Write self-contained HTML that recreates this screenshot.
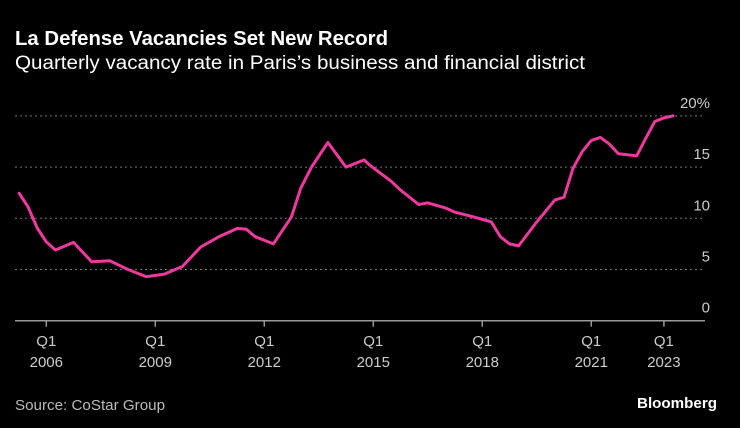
<!DOCTYPE html>
<html><head><meta charset="utf-8"><style>
html,body{margin:0;padding:0;background:#000;}
svg{display:block;font-family:"Liberation Sans",sans-serif;}
</style></head><body>
<svg id="chart" width="740" height="428" viewBox="0 0 740 428" xmlns="http://www.w3.org/2000/svg">
<rect width="740" height="428" fill="#000"/>
<text x="15" y="45" fill="#fff" font-size="20" font-weight="bold" textLength="373" lengthAdjust="spacingAndGlyphs">La Defense Vacancies Set New Record</text>
<text x="15" y="69" fill="#fff" font-size="19" textLength="570" lengthAdjust="spacingAndGlyphs">Quarterly vacancy rate in Paris’s business and financial district</text>
<g id="grid"></g>
<g id="xaxis"></g>
<g id="ylabels"></g>
<path id="line" fill="none" stroke="#f0399e" stroke-width="3" stroke-linejoin="round" stroke-linecap="round"/>
<text x="15" y="410" fill="#bbb" font-size="15" textLength="150" lengthAdjust="spacingAndGlyphs">Source: CoStar Group</text>
<text x="717" y="408" text-anchor="end" fill="#fff" font-size="15" font-weight="bold" textLength="80" lengthAdjust="spacingAndGlyphs">Bloomberg</text>
</svg>
<script>
const dates = [2005.25,2005.5,2005.75,2006.0,2006.25,2006.75,2007.25,2007.75,2008.25,2008.75,2009.25,2009.75,2010.25,2010.75,2011.25,2011.5,2011.75,2012.25,2012.75,2013.0,2013.3,2013.75,2014.25,2014.75,2014.9,2015.5,2015.75,2016.25,2016.5,2017.0,2017.25,2017.75,2018.25,2018.5,2018.75,2019.0,2019.5,2020.0,2020.25,2020.5,2020.75,2021.0,2021.25,2021.5,2021.75,2022.25,2022.5,2022.75,2023.0,2023.25];
const values = [12.45,11.1,9.05,7.7,6.9,7.65,5.75,5.85,5.0,4.3,4.55,5.3,7.2,8.2,9.0,8.95,8.2,7.5,10.15,12.9,15.0,17.4,15.0,15.7,15.2,13.6,12.75,11.35,11.5,11.0,10.6,10.15,9.65,8.2,7.5,7.3,9.65,11.8,12.05,14.9,16.5,17.6,17.9,17.25,16.3,16.1,17.8,19.45,19.8,20.0];
const yTicks = [0,5,10,15,20];
const yTickLabels = ["0","5","10","15","20%"];
const xTickYears = [2006,2009,2012,2015,2018,2021,2023];
const xTickLabels = ["2006","2009","2012","2015","2018","2021","2023"];

const NS="http://www.w3.org/2000/svg";
const X0=15, X1=705;
function xs(d){return 46.3+(d-2006)*36.33;}
function ys(v){return 320.7-v*10.24;}
function mk(tag,attrs,parent,text){const e=document.createElementNS(NS,tag);for(const k in attrs)e.setAttribute(k,attrs[k]);if(text!==undefined)e.textContent=text;parent.appendChild(e);return e;}
const grid=document.getElementById('grid'), yl=document.getElementById('ylabels'), xa=document.getElementById('xaxis');
yTicks.forEach((t,i)=>{
  const y=ys(t);
  if(t>0){
    const g=mk('line',{x1:X0,x2:X1,y1:y,y2:y,stroke:'#777','stroke-width':1,'stroke-dasharray':'2,3'},grid);
    
    
  }
  const lab=mk('text',{x:710,y:y-8,'text-anchor':'end',fill:'#ccc','font-size':15},yl,yTickLabels[i]);
  
  
});
const ax=mk('line',{x1:X0,x2:X1,y1:ys(0),y2:ys(0),stroke:'#999','stroke-width':1.5},xa);


xTickYears.forEach((yr,i)=>{
  const x=xs(yr);
  const t=mk('line',{x1:x,x2:x,y1:ys(0),y2:ys(0)+6,stroke:'#999','stroke-width':1.5},xa);
  
  
  const q=mk('text',{x:x,y:346,'text-anchor':'middle',fill:'#ccc','font-size':15},xa,'Q1');
  
  
  const l=mk('text',{x:x,y:367,'text-anchor':'middle',fill:'#ccc','font-size':15},xa,xTickLabels[i]);
  
  
});
document.getElementById('line').setAttribute('d',dates.map((d,i)=>(i?'L':'M')+xs(d).toFixed(1)+','+ys(values[i]).toFixed(1)).join(''));
</script>
</body></html>
